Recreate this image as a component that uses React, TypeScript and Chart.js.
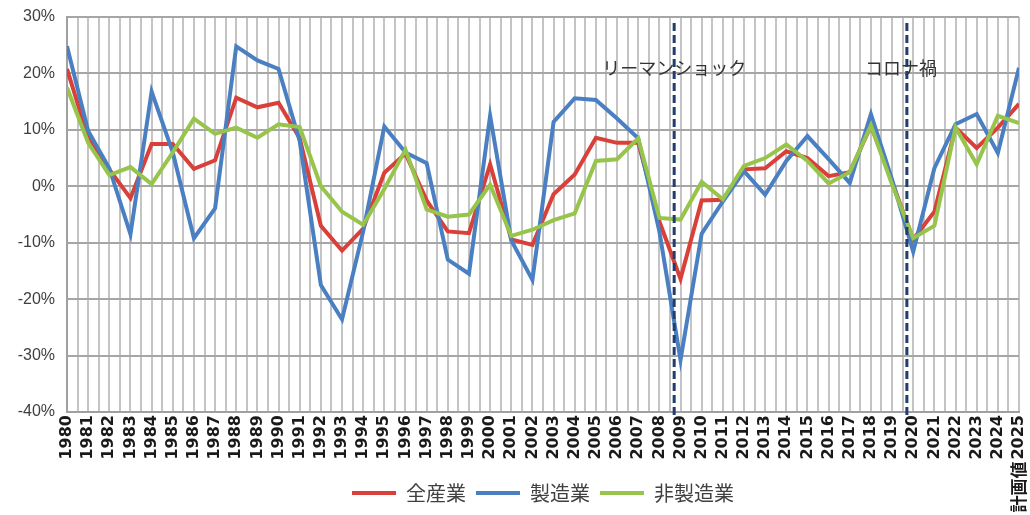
import { useEffect, useRef } from "react";
import { Chart, registerables } from "chart.js";

Chart.register(...registerables);

const years = [
  1980, 1981, 1982, 1983, 1984, 1985, 1986, 1987, 1988, 1989,
  1990, 1991, 1992, 1993, 1994, 1995, 1996, 1997, 1998, 1999,
  2000, 2001, 2002, 2003, 2004, 2005, 2006, 2007, 2008, 2009,
  2010, 2011, 2012, 2013, 2014, 2015, 2016, 2017, 2018, 2019,
  2020, 2021, 2022, 2023, 2024, 2025,
];

const allIndustry = [
  20.8, 8.6, 3.0, -2.1, 7.5, 7.5, 3.1, 4.6, 15.7, 14.0,
  14.8, 8.5, -7.0, -11.4, -7.5, 2.4, 5.8, -2.5, -8.0, -8.3,
  3.9, -9.4, -10.4, -1.4, 2.1, 8.6, 7.7, 7.7, -6.2, -16.4,
  -2.5, -2.4, 3.0, 3.2, 6.2, 5.0, 1.8, 2.5, 10.7, 0.8,
  -9.4, -4.5, 10.4, 6.8, 10.4, 14.6,
];

const manufacturing = [
  24.8, 9.8, 3.2, -8.5, 16.8, 6.0, -9.2, -3.9, 24.8, 22.3,
  20.8, 8.0, -17.5, -23.6, -8.0, 10.6, 6.0, 4.1, -13.0, -15.5,
  12.5, -9.6, -16.6, 11.4, 15.6, 15.3, 12.0, 8.5, -8.0, -30.8,
  -8.4, -2.7, 2.7, -1.5, 4.5, 8.9, 4.8, 0.6, 12.8, 1.2,
  -11.6, 3.2, 11.0, 12.8, 5.9, 21.0,
];

const nonManufacturing = [
  17.5, 7.7, 2.0, 3.4, 0.4, 6.0, 12.0, 9.3, 10.4, 8.6,
  11.0, 10.5, 0.0, -4.5, -6.8, -0.5, 6.5, -4.1, -5.4, -5.0,
  0.3, -8.8, -7.7, -6.0, -4.8, 4.5, 4.8, 8.5, -5.6, -5.9,
  0.8, -2.3, 3.6, 5.0, 7.4, 4.5, 0.5, 2.5, 10.8, 0.3,
  -9.2, -7.0, 10.4, 3.9, 12.5, 11.2,
];

const seriesNames = ["全産業", "製造業", "非製造業"];
const planSuffixLabel = "計画値";
const yMin = -40;
const yMax = 30;
const yStep = 10;

const eventLabels = ["リーマンショック", "コロナ禍"];
const eventPositions = [2008.7, 2019.7];

const COLORS = ["#d9403a", "#4a7fc2", "#97c44a"];
const X_TICK_FONT = "bold 16px 'DejaVu Sans'";

export default function App() {
  const canvasRef = useRef<HTMLCanvasElement | null>(null);

  useEffect(() => {
    document.body.style.margin = "0";
    document.body.style.overflow = "hidden";
    const canvas = canvasRef.current;
    if (!canvas) return;

    const seriesData = [allIndustry, manufacturing, nonManufacturing];

    const eventPlugin = {
      id: "eventLines",
      afterDatasetsDraw(chart: any) {
        const { ctx, chartArea, scales } = chart;
        ctx.save();
        eventPositions.forEach((pos, i) => {
          const x = scales.x.getPixelForValue(pos);
          ctx.font = "18px 'Noto Sans CJK JP'";
          ctx.fillStyle = "#333333";
          ctx.textAlign = "center";
          ctx.textBaseline = "middle";
          const shift = i === 1 ? -6 : 0;
          ctx.fillText(eventLabels[i], x + shift, chartArea.top + 51);
          ctx.beginPath();
          ctx.setLineDash([8, 4]);
          ctx.lineWidth = 3;
          ctx.strokeStyle = "#1f3d6e";
          ctx.moveTo(x, chartArea.top + 6);
          ctx.lineTo(x, chartArea.bottom + 3);
          ctx.stroke();
        });
        ctx.restore();
      },
      afterDraw(chart: any) {
        const { ctx, scales } = chart;
        const lastYear = years[years.length - 1];
        const x = scales.x.getPixelForValue(lastYear);
        ctx.save();
        ctx.font = X_TICK_FONT;
        const w = ctx.measureText(String(lastYear)).width;
        const yStart = scales.x.top + 3 + w + 2;
        ctx.translate(x, yStart);
        ctx.rotate(-Math.PI / 2);
        ctx.font = "bold 17px 'Noto Sans CJK JP'";
        ctx.fillStyle = "#1a1a1a";
        ctx.textAlign = "right";
        ctx.textBaseline = "middle";
        ctx.fillText(planSuffixLabel, 0, 0);
        ctx.restore();
      },
    };

    const chart = new Chart(canvas, {
      type: "line",
      data: {
        datasets: seriesData.map((vals, si) => ({
          label: seriesNames[si],
          data: vals.map((v, i) => ({ x: years[i], y: v })),
          borderColor: COLORS[si],
          backgroundColor: COLORS[si],
          borderWidth: 4,
          pointRadius: 0,
          tension: 0,
          order: 3 - si,
        })),
      },
      options: {
        animation: false,
        responsive: false,
        layout: { padding: { left: 0, right: 11, top: 17, bottom: 2 } },
        plugins: {
          legend: {
            position: "bottom",
            fullSize: false,
            labels: {
              usePointStyle: true,
              pointStyle: "line",
              pointStyleWidth: 44,
              boxHeight: 20,
              padding: 10,
              color: "#404040",
              font: { family: "'Noto Sans CJK JP'", size: 20 },
              sort: (a: any, b: any) => a.datasetIndex - b.datasetIndex,
            },
          },
          tooltip: { enabled: false },
        },
        scales: {
          x: {
            type: "linear",
            min: years[0],
            max: years[years.length - 1],
            afterFit: (scale: any) => {
              scale.height = 61;
              scale.paddingLeft = 0;
              scale.paddingRight = 0;
            },
            grid: {
              color: "#c4c4c4",
              lineWidth: 2,
              drawTicks: false,
            },
            border: { color: "#a0a0a0", width: 2 },
            ticks: {
              stepSize: 0.5,
              autoSkip: false,
              minRotation: 90,
              maxRotation: 90,
              padding: 3,
              color: "#1a1a1a",
              font: {
                family: "'DejaVu Sans'",
                size: 16,
                weight: "bold",
              },
              callback: (value: any) => {
                const v = Number(value);
                if (!Number.isInteger(v)) return "";
                return years.indexOf(v) >= 0 ? String(v) : "";
              },
            },
          },
          y: {
            min: yMin,
            max: yMax,
            afterFit: (scale: any) => {
              scale.width = 67;
              scale.paddingTop = 0;
              scale.paddingBottom = 0;
            },
            grid: {
              color: "#a6a6a6",
              lineWidth: 2,
              drawTicks: false,
            },
            border: { color: "#a0a0a0", width: 2 },
            ticks: {
              stepSize: yStep,
              padding: 12,
              color: "#404040",
              font: { family: "'Liberation Sans'", size: 16 },
              callback: (value: any) => value + "%",
            },
          },
        },
      },
      plugins: [eventPlugin],
    } as any);

    return () => {
      chart.destroy();
    };
  }, []);

  return (
    <div style={{ width: 1030, height: 515 }}>
      <canvas ref={canvasRef} width={1030} height={515} />
    </div>
  );
}
